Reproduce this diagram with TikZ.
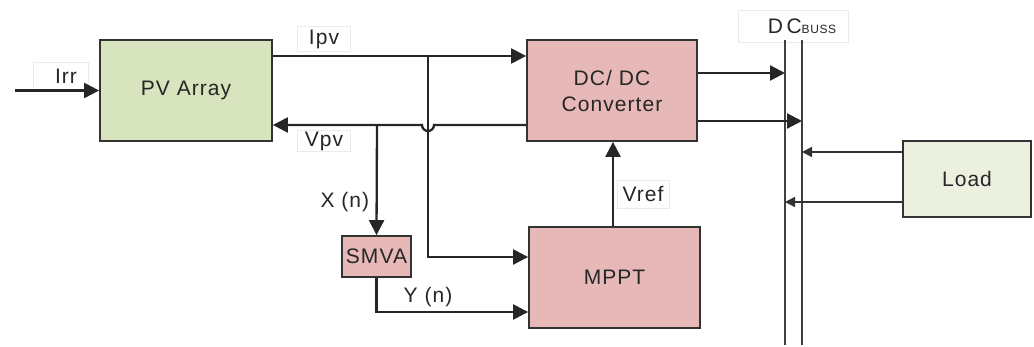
\documentclass[tikz,border=0pt]{standalone}
\usepackage{fontspec}
\setmainfont{Liberation Sans}[LetterSpace=5]
\usetikzlibrary{arrows.meta}
\definecolor{pvgreen}{HTML}{D7E4BD}
\definecolor{loadgreen}{HTML}{EBF1DE}
\definecolor{convpink}{HTML}{E6B9B8}
\begin{document}
\begin{tikzpicture}[x=1pt, y=-1pt,
    every node/.style={font=\fontsize{21}{25}\selectfont, text=black!85},
    block/.style={draw=black!80, line width=1.8pt, inner sep=0pt, align=center},
    tag/.style={draw=black!8, fill=white, inner sep=0pt},
    wire/.style={line width=2.3pt, black!85},
    arr/.style={wire, -{Triangle[length=15pt, width=15pt]}},
    thin arr/.style={line width=1.5pt, black!80, -{Triangle[length=10pt, width=10pt]}},
    bus/.style={line width=2pt, black!75}]
    \useasboundingbox (0,0) rectangle (1034,347);
    % label frames
    \node[tag, minimum width=55, minimum height=27] (irrtag) at (61,76) {\hspace*{10pt}Irr};
    \node[tag, minimum width=53, minimum height=25] (ipvtag) at (324,39) {Ipv};
    \node[tag, minimum width=53, minimum height=21] (vpvtag) at (324,141) {Vpv};
    \node[tag, minimum width=52, minimum height=28] (vreftag) at (643,194) {Vref};
    \node[tag, minimum width=110, minimum height=32] (bustag) at (793,26) {\hspace*{18pt}D\,C{\fontsize{12}{14}\selectfont BUSS}};
    % blocks
    \node[block, fill=pvgreen, minimum width=172, minimum height=101] (pv) at (186,90.5) {PV Array};
    \node[block, fill=convpink, minimum width=170, minimum height=101] (dc) at (612,90.5) {DC/ DC\\[1pt]Converter};
    \node[block, fill=convpink, minimum width=69, minimum height=41] (smva) at (376.5,256.5) {SMVA};
    \node[block, fill=convpink, minimum width=171, minimum height=101] (mppt) at (614.5,277.5) {MPPT};
    \node[block, fill=loadgreen, minimum width=128, minimum height=76] (load) at (967,179) {Load};
    % dc bus
    \coordinate (busa) at (785,40);
    \coordinate (busb) at (802,40);
    \draw[bus] (busa) -- (busa |- 0,345);
    \draw[bus] (busb) -- (busb |- 0,345);
    % signals
    \coordinate (irrin) at (15,90.5);
    \coordinate (itap) at (428,56);
    \coordinate (vtap) at (377,125);
    \draw[arr] (irrin) -- (pv.west);
    \draw[arr] (pv.east |- itap) -- (dc.west |- itap);
    \draw[arr] (dc.west |- vtap) -- ([xshift=6pt]itap |- vtap) arc (0:180:6) -- (pv.east |- vtap);
    \draw[arr] (itap) |- (mppt.west |- 0,257);
    \draw[arr] (vtap) -- (smva.north) node[pos=0.7, left=3pt] (xlabel) {X (n)};
    \draw[arr] (smva.south) |- (mppt.west |- 0,312) node[pos=0.67, above=1pt] (ylabel) {Y (n)};
    \draw[arr] (mppt.north -| 613,0) -- (dc.south -| 613,0);
    \draw[arr] (dc.east |- 0,73) -- (busa |- 0,73);
    \draw[arr] (dc.east |- 0,121) -- (busb |- 0,121);
    \draw[thin arr] (load.west |- 0,152) -- (busb |- 0,152);
    \draw[thin arr] (load.west |- 0,202) -- (busa |- 0,202);
\end{tikzpicture}
\end{document}
